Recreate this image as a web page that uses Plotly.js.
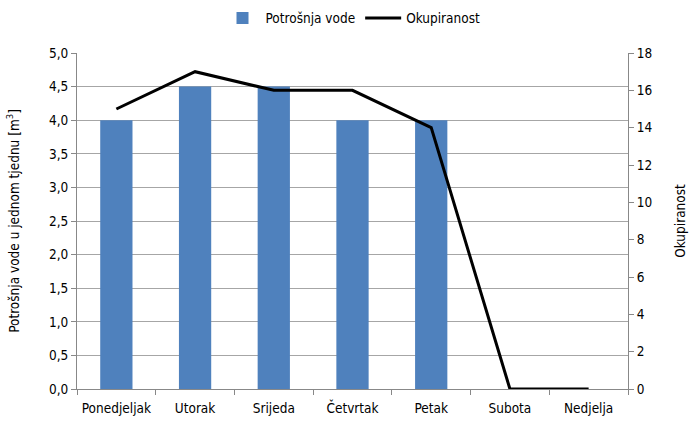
<!DOCTYPE html>
<html><head><meta charset="utf-8">
<script src="https://cdn.plot.ly/plotly-3.0.1.min.js"></script>
<style>html,body{margin:0;padding:0;background:#fff}#c{width:690px;height:422px}</style>
</head><body><div id="c"></div>
<script>
const days = ["Ponedjeljak","Utorak","Srijeda","Četvrtak","Petak","Subota","Nedjelja"];
const waterUse = [4.0, 4.5, 4.5, 4.0, 4.0, 0, 0];
const occupancy = [15, 17, 16, 16, 14, 0, 0];
const leftTicks = [0,0.5,1,1.5,2,2.5,3,3.5,4,4.5,5];
const leftTickText = ["0,0","0,5","1,0","1,5","2,0","2,5","3,0","3,5","4,0","4,5","5,0"];

const fontFam = "'DejaVu Sans Condensed', Lato, sans-serif";
const fs = 13.5;
const data = [
  {type:'bar', x:days, y:waterUse, name:'Potrošnja vode', marker:{color:'#4F81BD'}, width:0.41, yaxis:'y'},
  {type:'scatter', mode:'lines', x:days, y:occupancy, name:'Okupiranost', line:{color:'#000', width:3}, yaxis:'y2'}
];
const layout = {
  width:690, height:422,
  margin:{l:77, r:62, t:53, b:33, autoexpand:false},
  paper_bgcolor:'#fff', plot_bgcolor:'#fff',
  font:{family:fontFam, size:fs, color:'#000'},
  showlegend:true,
  legend:{orientation:'h', x:0.5, xanchor:'center', yref:'container', y:0.957, yanchor:'middle', font:{size:fs}, traceorder:'normal', itemwidth:36},
  xaxis:{type:'category', tickangle:0, showline:true, linecolor:'#888', linewidth:1, ticks:'outside', tickson:'boundaries', ticklen:5, tickcolor:'#888', showgrid:false, range:[-0.5,6.5], tickfont:{size:fs}, ticklabelstandoff:7, automargin:false},
  yaxis:{range:[0,5], tickvals:leftTicks, ticktext:leftTickText, showline:true, linecolor:'#888', ticks:'outside', ticklen:5, tickcolor:'#888', showgrid:true, gridcolor:'#a6a6a6', gridwidth:1, zeroline:false, automargin:false,
    title:{text:'Potrošnja vode u jednom tjednu [m<sup>3</sup>]', font:{size:fs}, standoff:26}},
  yaxis2:{range:[0,18], dtick:2, overlaying:'y', side:'right', showline:true, linecolor:'#888', ticks:'outside', ticklen:5, tickcolor:'#888', showgrid:false, zeroline:false, automargin:false,
    title:{text:'Okupiranost', font:{size:fs}, standoff:24}},
  bargap:0.59
};
Plotly.newPlot('c', data, layout, {displayModeBar:false, staticPlot:true});
</script></body></html>
